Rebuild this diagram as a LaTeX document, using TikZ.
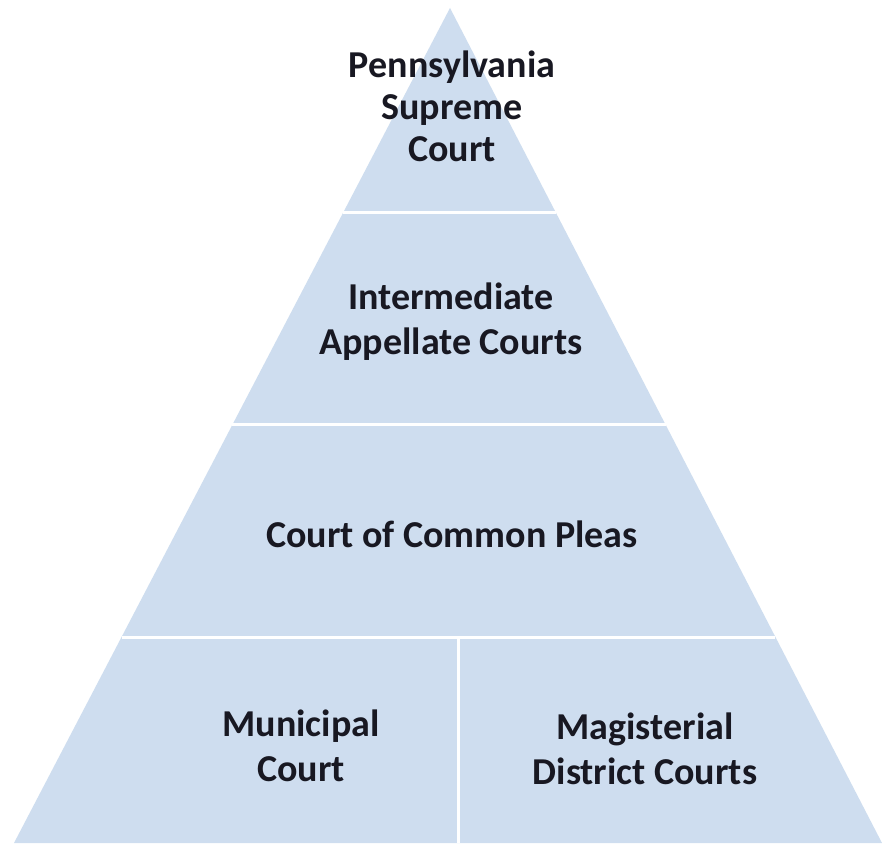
\documentclass[tikz,border=0pt]{standalone}
\usepackage{fontspec}
\usetikzlibrary{calc}
\setmainfont{Carlito}
\definecolor{tierblue}{RGB}{206,221,239}
\definecolor{inkdark}{RGB}{24,24,34}
\begin{document}
\begin{tikzpicture}[x=1pt,y=-1pt,
  lbl/.style={font=\bfseries\fontsize{38}{45}\selectfont, text=inkdark, align=center, inner sep=0pt},
  sep/.style={draw=white, line width=3pt}]
\useasboundingbox (0,0) rectangle (882,843);
\fill[white] (0,0) rectangle (882,843);
\coordinate (apex) at (450,8);
\coordinate (bl) at (14,843);
\coordinate (br) at (882,843);
\fill[tierblue] (apex) -- (bl) -- (br) -- cycle;
% separators
\draw[sep] ($(apex)!{(213-8)/835}!(bl)$) coordinate (l1) -- ($(apex)!{(213-8)/835}!(br)$) coordinate (r1);
\draw[sep] ($(apex)!{(425-8)/835}!(bl)$) coordinate (l2) -- ($(apex)!{(425-8)/835}!(br)$) coordinate (r2);
\draw[sep] ($(apex)!{(637-8)/835}!(bl)$) coordinate (l3) -- ($(apex)!{(637-8)/835}!(br)$) coordinate (r3);
\coordinate (vt) at (458,637);
\coordinate (vb) at (458,843);
\draw[sep] (vt) -- (vb);
% labels
\node[lbl, font=\bfseries\fontsize{38}{42}\selectfont] (supreme) at (452,106) {Pennsylvania\\Supreme\\Court};
\node[lbl] (appellate) at (451,322) {Intermediate\\Appellate Courts};
\node[lbl] (pleas) at (452,534) {Court of Common Pleas};
\node[lbl] (municipal) at (301,746) {Municipal\\Court};
\node[lbl] (magisterial) at (645,749) {Magisterial\\District Courts};
\end{tikzpicture}
\end{document}
